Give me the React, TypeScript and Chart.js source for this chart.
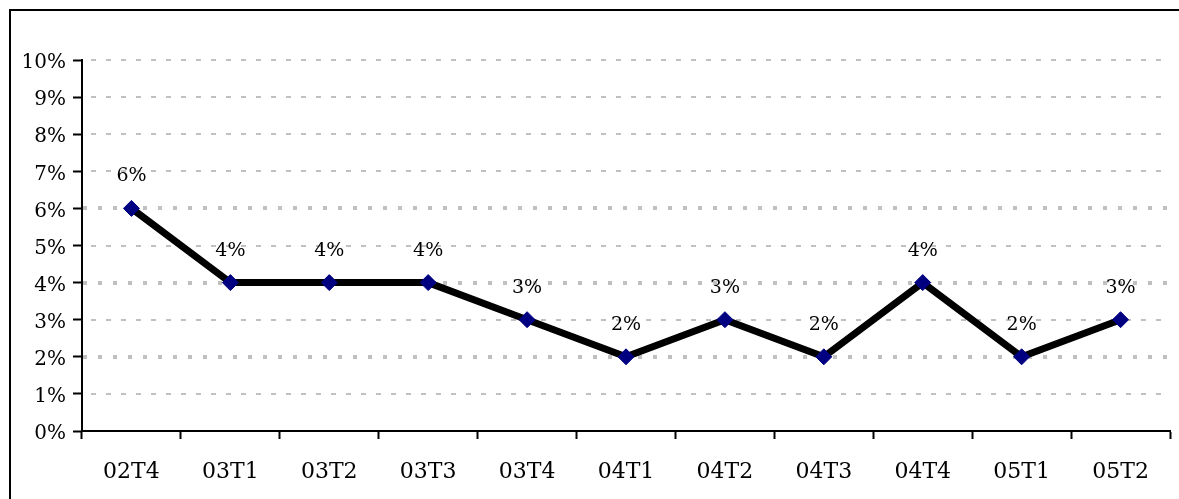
import React, { useEffect, useRef } from "react";
import { Chart, registerables } from "chart.js";

Chart.register(...registerables);

const categories = ["02T4", "03T1", "03T2", "03T3", "03T4", "04T1", "04T2", "04T3", "04T4", "05T1", "05T2"];
const values = [6, 4, 4, 4, 3, 2, 3, 2, 4, 2, 3];
const yTicks = [0, 1, 2, 3, 4, 5, 6, 7, 8, 9, 10];
const boldGridValues = [2, 4, 6];

const FONT = "'DejaVu Serif', 'Liberation Serif', serif";

const gridPlugin = {
  id: "customGrid",
  beforeDatasetsDraw(chart: any) {
    const { ctx, chartArea, scales } = chart;
    const y = scales.y;
    ctx.save();
    ctx.beginPath();
    ctx.rect(chartArea.left, chartArea.top - 3, chartArea.right - chartArea.left, chartArea.bottom - chartArea.top + 3);
    ctx.clip();
    ctx.strokeStyle = "#c0c0c0";
    for (const v of yTicks) {
      if (v === 0) continue;
      const py = Math.round(y.getPixelForValue(v));
      const bold = boldGridValues.includes(v);
      ctx.lineWidth = bold ? 4 : 2;
      ctx.setLineDash(bold ? [4, 11] : [5, 10]);
      ctx.lineDashOffset = bold ? -1 : -9;
      ctx.beginPath();
      ctx.moveTo(chartArea.left, py);
      ctx.lineTo(chartArea.right, py);
      ctx.stroke();
    }
    ctx.restore();
  },
};

const labelPlugin = {
  id: "pointLabels",
  afterDatasetsDraw(chart: any) {
    const { ctx } = chart;
    const meta = chart.getDatasetMeta(0);
    ctx.save();
    ctx.font = `19px ${FONT}`;
    ctx.fillStyle = "#000";
    ctx.textAlign = "center";
    ctx.textBaseline = "middle";
    meta.data.forEach((pt: any, i: number) => {
      ctx.fillText(values[i] + "%", pt.x, pt.y - 32);
    });
    ctx.restore();
  },
};

export default function App() {
  const canvasRef = useRef<HTMLCanvasElement | null>(null);

  useEffect(() => {
    if (!canvasRef.current) return;
    const chart = new Chart(canvasRef.current, {
      type: "line",
      data: {
        labels: categories,
        datasets: [
          {
            data: values,
            borderColor: "#000000",
            borderWidth: 7,
            pointStyle: "rectRot",
            pointRadius: 8,
            pointBorderWidth: 1,
            pointBackgroundColor: "#000080",
            pointBorderColor: "#000080",
            tension: 0,
            fill: false,
          },
        ],
      },
      options: {
        responsive: false,
        maintainAspectRatio: false,
        animation: false,
        events: [],
        layout: { padding: { top: 60, right: 7, left: 0, bottom: 0 } },
        plugins: {
          legend: { display: false },
          tooltip: { enabled: false },
          title: { display: false },
        },
        scales: {
          x: {
            type: "category",
            offset: true,
            grid: {
              offset: true,
              drawOnChartArea: false,
              drawTicks: true,
              tickLength: 8,
              tickColor: "#000",
              tickWidth: 2,
              tickBorderDash: [],
            },
            border: { display: true, color: "#000", width: 2 },
            ticks: {
              color: "#000",
              font: { family: FONT, size: 22 },
              padding: 20,
              maxRotation: 0,
              autoSkip: false,
            },
            afterFit(scale: any) {
              scale.height = 68;
            },
          },
          y: {
            min: 0,
            max: 10,
            grid: {
              drawOnChartArea: false,
              drawTicks: true,
              tickLength: 9,
              tickColor: "#000",
              tickWidth: 2,
              tickBorderDash: [],
            },
            border: { display: true, color: "#000", width: 2 },
            ticks: {
              stepSize: 1,
              color: "#000",
              font: { family: FONT, size: 20 },
              padding: 7,
              labelOffset: 3,
              callback: (v: any) => v + "%",
            },
            afterFit(scale: any) {
              scale.width = 82;
            },
          },
        },
      },
      plugins: [gridPlugin, labelPlugin],
    });
    return () => chart.destroy();
  }, []);

  return (
    <div style={{ position: "fixed", left: 0, top: 0, width: 1179, height: 499, overflow: "hidden", background: "#fff" }}>
      <div
        style={{
          position: "absolute",
          left: 9,
          top: 9,
          width: 1250,
          height: 600,
          border: "2px solid #000",
          boxSizing: "border-box",
        }}
      />
      <canvas
        ref={canvasRef}
        width={1179}
        height={499}
        style={{ position: "absolute", left: 0, top: 0, width: 1179, height: 499 }}
      />
    </div>
  );
}
